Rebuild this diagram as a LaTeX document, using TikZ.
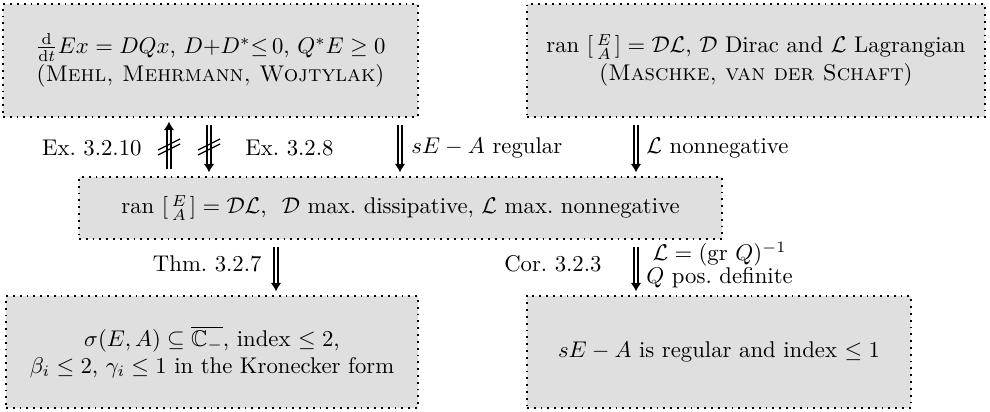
\documentclass[tikz,border=0pt]{standalone}
\usepackage{amsmath,amssymb}
\usetikzlibrary{arrows.meta}
\begin{document}
\begin{tikzpicture}[x=0.44pt,y=-0.44pt,
  box/.style={draw, fill=gray!25, line width=0.8pt, dash pattern=on 0.8pt off 2.2pt, align=center, inner sep=0pt},
  imp/.style={line width=2.6pt, -{Latex[length=3.8pt,width=4.8pt]}, shorten <=3pt, shorten >=1.6pt,
    postaction={draw=white, line width=1.3pt, -, shorten <=2.9pt, shorten >=5.2pt}},
  lab/.style={inner sep=0pt},
  crs/.style={line width=0.5pt}]
\useasboundingbox (0,0) rectangle (990,412);
\node[box, minimum width=182.6pt, minimum height=49.72pt] (mmw) at (210.5,60.5)
  {$\frac{\mathrm d}{\mathrm dt}Ex = DQx$, $D{+}D^*{\leq}\,0$, $Q^*E \geq 0$\\[0.5pt]
   (\textsc{Mehl, Mehrmann, Wojtylak})};
\node[box, minimum width=201.52pt, minimum height=49.72pt] (ms) at (756,60.5)
  {ran $\left[\begin{smallmatrix}E\\A\end{smallmatrix}\right] = \mathcal{DL}$,\ $\mathcal D$ Dirac and $\mathcal L$ Lagrangian\\[0.5pt]
   (\textsc{Maschke, van der Schaft})};
\node[box, minimum width=282.92pt, minimum height=27.28pt] (mid) at (400.5,208)
  {ran $\left[\begin{smallmatrix}E\\A\end{smallmatrix}\right] = \mathcal{DL}$,\ \ $\mathcal D$ max.\ dissipative, $\mathcal L$ max.\ nonnegative};
\node[box, minimum width=181.28pt, minimum height=49.28pt] (bl) at (212,352)
  {$\sigma(E,A)\subseteq\overline{\mathbb{C}_-}$, index $\leq 2$,\\
   $\beta_i\leq 2$, $\gamma_i\leq 1$ in the Kronecker form};
\node[box, minimum width=168.96pt, minimum height=49.28pt] (br) at (719,352)
  {$sE-A$ is regular and index $\leq 1$};
\coordinate (xa) at (169,0);
\coordinate (xb) at (209,0);
\coordinate (xc) at (400,0);
\coordinate (xd) at (636,0);
\coordinate (xe) at (276,0);
\draw[imp] (mid.north -| xa) -- (mmw.south -| xa);
\draw[imp] (mmw.south -| xb) -- (mid.north -| xb);
\draw[imp] (mmw.south -| xc) -- (mid.north -| xc);
\draw[imp] (ms.south -| xd) -- (mid.north -| xd);
\draw[imp] (mid.south -| xe) -- (bl.north -| xe);
\draw[imp] (mid.south -| xd) -- (br.north -| xd);
\draw[crs] (158,155) -- (180,144) (158,150) -- (180,139);
\draw[crs] (198,155) -- (220,144) (198,150) -- (220,139);
\node[lab, anchor=east] (l1) at (142,148) {Ex.\ 3.2.10};
\node[lab, anchor=west] (l2) at (245,148) {Ex.\ 3.2.8};
\node[lab, anchor=west] (l3) at (411,148) {$sE-A$ regular};
\node[lab, anchor=west] (l4) at (646,148) {$\mathcal L$ nonnegative};
\node[lab, anchor=east] (l5) at (262,264) {Thm.\ 3.2.7};
\node[lab, anchor=east] (l6) at (602,264) {Cor.\ 3.2.3};
\node[lab, anchor=west, align=center] (l7) at (646,265) {$\mathcal L = (\mathrm{gr}\ Q)^{-1}$\\[-2pt] $Q$ pos.\ definite};
\end{tikzpicture}
\end{document}
